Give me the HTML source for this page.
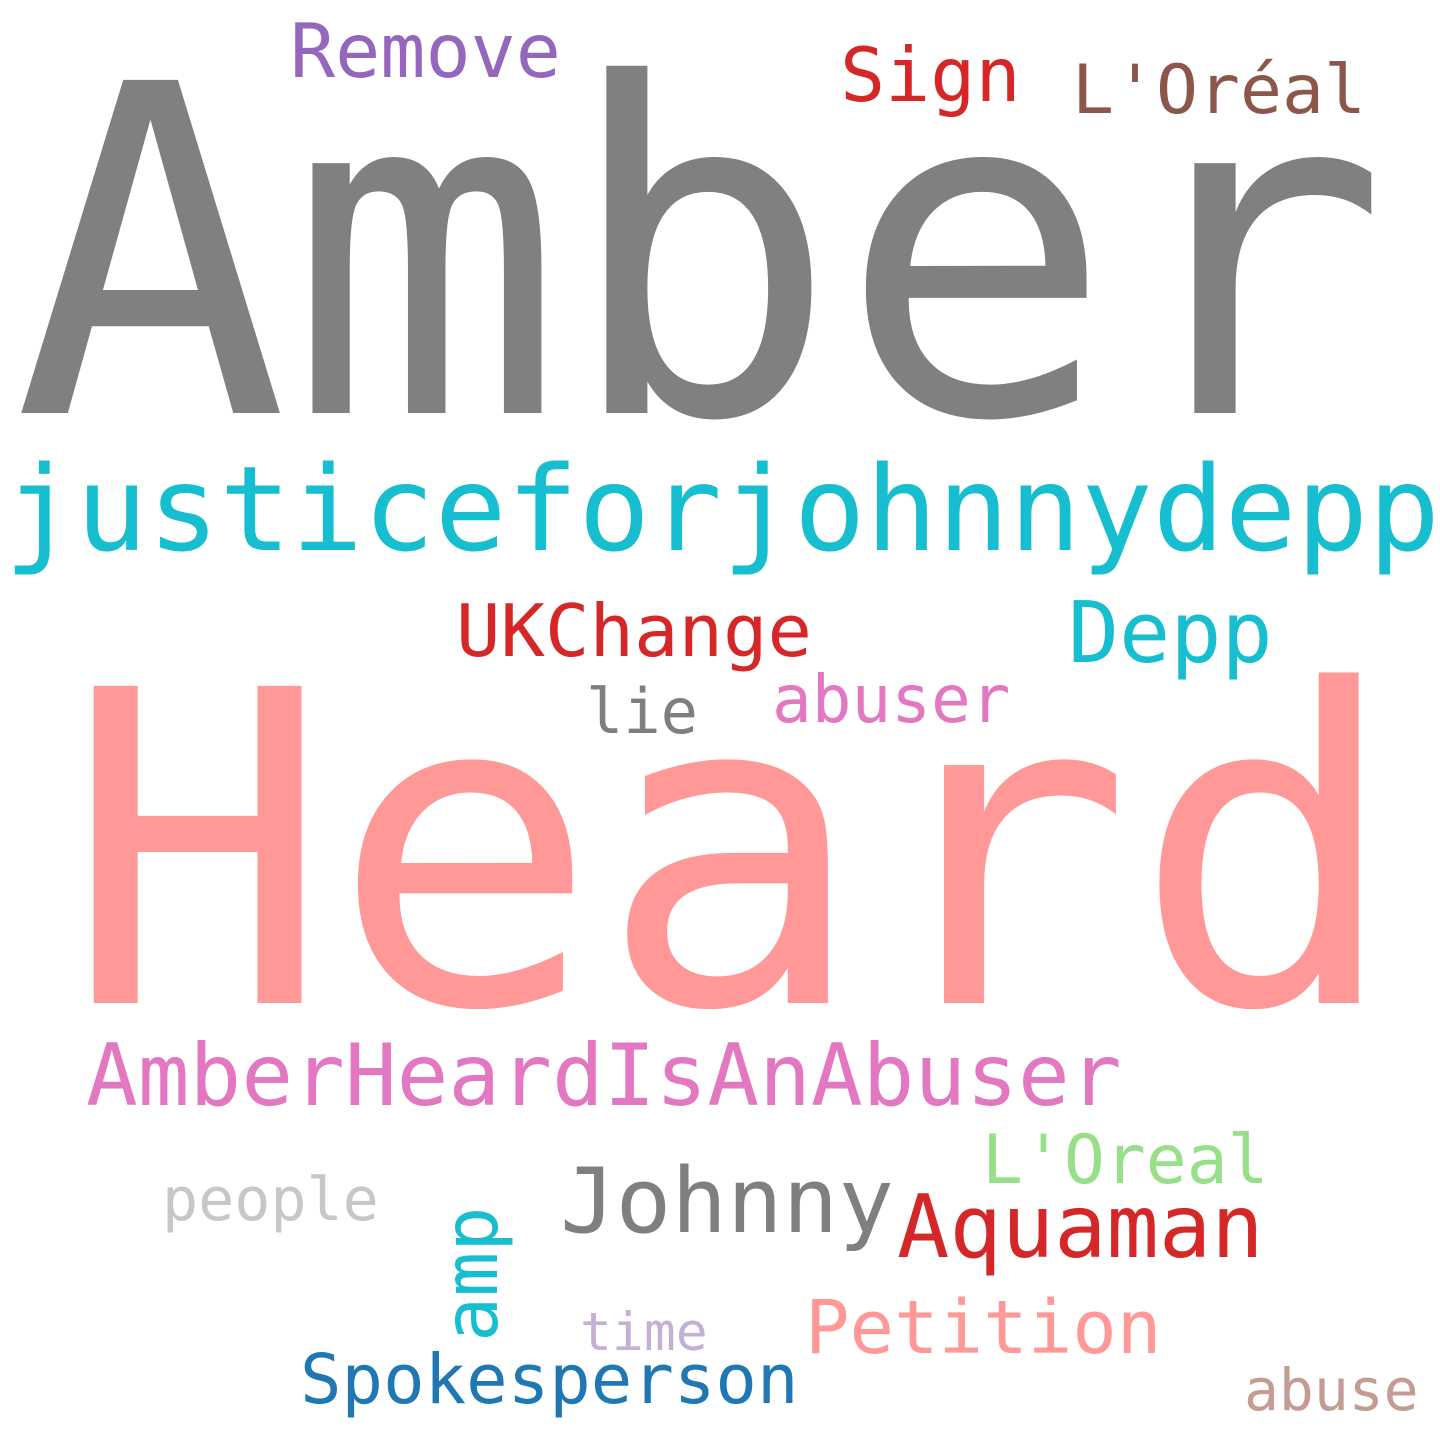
<!DOCTYPE html>
<html><head><meta charset="utf-8"><style>
html,body{margin:0;padding:0;background:#fff;width:1440px;height:1440px;overflow:hidden}
text{font-family:"DejaVu Sans Mono","Liberation Mono",monospace}
</style></head><body>
<svg width="1440" height="1440" viewBox="0 0 1440 1440">
<rect width="1440" height="1440" fill="#fff"/>
<text x="13" y="413" font-size="457" fill="#808080">Amber</text>
<text x="64" y="1003" font-size="435" fill="#ff9896" textLength="1336" lengthAdjust="spacingAndGlyphs">Heard</text>
<text x="4" y="550" font-size="118" fill="#17becf" textLength="1436" lengthAdjust="spacingAndGlyphs">justiceforjohnnydepp</text>
<text x="86" y="1105" font-size="86" fill="#e377c2">AmberHeardIsAnAbuser</text>
<text x="290" y="77" font-size="75" fill="#9467bd">Remove</text>
<text x="840" y="101" font-size="75" fill="#d62728">Sign</text>
<text x="1072" y="113" font-size="68" fill="#8c564b" textLength="294" lengthAdjust="spacingAndGlyphs">L'Oréal</text>
<text x="456" y="656" font-size="72" fill="#d62728" textLength="356" lengthAdjust="spacingAndGlyphs">UKChange</text>
<text x="1068" y="662" font-size="85" fill="#17becf">Depp</text>
<text x="586" y="733" font-size="62" fill="#7f7f7f">lie</text>
<text x="772" y="722" font-size="66" fill="#e377c2">abuser</text>
<text x="982" y="1183" font-size="68" fill="#98df8a">L'Oreal</text>
<text x="162" y="1220" font-size="60" fill="#c7c7c7">people</text>
<text x="560" y="1232" font-size="90" fill="#7f7f7f" textLength="334" lengthAdjust="spacingAndGlyphs">Johnny</text>
<text x="897" y="1257" font-size="87" fill="#d62728">Aquaman</text>
<text x="0" y="0" font-size="75" fill="#17becf" transform="translate(497,1342) rotate(-90)">amp</text>
<text x="580" y="1350" font-size="53" fill="#c5b0d5">time</text>
<text x="805" y="1353" font-size="74" fill="#ff9896">Petition</text>
<text x="300" y="1403" font-size="69" fill="#1f77b4">Spokesperson</text>
<text x="1244" y="1410" font-size="58" fill="#c49c94">abuse</text>
</svg>
</body></html>
